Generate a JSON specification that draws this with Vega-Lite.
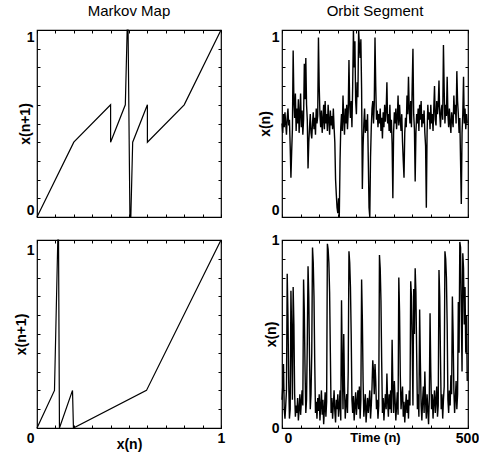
{
  "$schema": "https://vega.github.io/schema/vega-lite/v6.json",
  "padding": {"left": 13, "top": 3, "right": 5, "bottom": 5},
  "background": "white",
  "columns": 2,
  "bounds": "flush",
  "spacing": {"row": 23, "column": 61},
  "config": {
    "font": "Liberation Sans",
    "view": {"stroke": "black", "strokeWidth": 1.2},
    "title": {"font": "Liberation Sans", "fontSize": 15, "fontWeight": "normal", "color": "black", "offset": 8},
    "axis": {
      "labelFont": "Liberation Sans", "labelFontSize": 14, "labelFontWeight": "bold", "labelColor": "black",
      "titleFont": "Liberation Sans", "titleFontSize": 14, "titleFontWeight": "bold", "titleColor": "black",
      "tickColor": "black", "tickSize": -3, "tickWidth": 1, "domain": false, "grid": false, "labelPadding": 6
    }
  },
  "datasets": {
    "map1": [
      {"i": 0, "x": 0, "y": 0}, {"i": 1, "x": 0.2, "y": 0.4}, {"i": 2, "x": 0.4, "y": 0.6}, {"i": 3, "x": 0.4, "y": 0.4},
      {"i": 4, "x": 0.48, "y": 0.6}, {"i": 5, "x": 0.49, "y": 1}, {"i": 6, "x": 0.495, "y": 1}, {"i": 7, "x": 0.505, "y": 0},
      {"i": 8, "x": 0.51, "y": 0}, {"i": 9, "x": 0.52, "y": 0.4}, {"i": 10, "x": 0.6, "y": 0.6}, {"i": 11, "x": 0.6, "y": 0.4},
      {"i": 12, "x": 0.8, "y": 0.6}, {"i": 13, "x": 1, "y": 1}
    ],
    "map2": [
      {"i": 0, "x": 0, "y": 0}, {"i": 1, "x": 0.095, "y": 0.2}, {"i": 2, "x": 0.113, "y": 1}, {"i": 3, "x": 0.117, "y": 1},
      {"i": 4, "x": 0.122, "y": 0}, {"i": 5, "x": 0.193, "y": 0.2}, {"i": 6, "x": 0.198, "y": 0}, {"i": 7, "x": 0.595, "y": 0.2},
      {"i": 8, "x": 1, "y": 1}
    ],
    "orbit1": [
      {"n":0,"v":0.50},{"n":2,"v":0.45},{"n":4,"v":0.55},{"n":6,"v":0.48},{"n":8,"v":0.56},{"n":10,"v":0.50},{"n":12,"v":0.44},{"n":14,"v":0.53},{"n":16,"v":0.58},{"n":18,"v":0.49},
      {"n":20,"v":0.52},{"n":22,"v":0.38},{"n":24,"v":0.21},{"n":26,"v":0.35},{"n":28,"v":0.47},{"n":30,"v":0.89},{"n":32,"v":0.62},{"n":34,"v":0.53},{"n":36,"v":0.66},{"n":38,"v":0.46},
      {"n":40,"v":0.58},{"n":42,"v":0.50},{"n":44,"v":0.63},{"n":46,"v":0.45},{"n":48,"v":0.55},{"n":50,"v":0.66},{"n":52,"v":0.48},{"n":54,"v":0.57},{"n":56,"v":0.44},{"n":58,"v":0.52},
      {"n":60,"v":0.82},{"n":62,"v":0.63},{"n":64,"v":0.85},{"n":66,"v":0.60},{"n":68,"v":0.52},{"n":70,"v":0.26},{"n":72,"v":0.40},{"n":74,"v":0.48},{"n":76,"v":0.55},{"n":78,"v":0.45},
      {"n":80,"v":0.42},{"n":82,"v":0.50},{"n":84,"v":0.56},{"n":86,"v":0.47},{"n":88,"v":0.53},{"n":90,"v":0.44},{"n":92,"v":0.58},{"n":94,"v":0.50},{"n":96,"v":0.54},{"n":98,"v":0.96},
      {"n":100,"v":0.70},{"n":102,"v":0.55},{"n":104,"v":0.48},{"n":106,"v":0.57},{"n":108,"v":0.45},{"n":110,"v":0.52},{"n":112,"v":0.60},{"n":114,"v":0.47},{"n":116,"v":0.62},{"n":118,"v":0.50},
      {"n":120,"v":0.55},{"n":122,"v":0.46},{"n":124,"v":0.60},{"n":126,"v":0.52},{"n":128,"v":0.44},{"n":130,"v":0.57},{"n":132,"v":0.49},{"n":134,"v":0.54},{"n":136,"v":0.47},{"n":138,"v":0.58},
      {"n":140,"v":0.48},{"n":142,"v":0.40},{"n":144,"v":0.20},{"n":146,"v":0.12},{"n":148,"v":0.05},{"n":150,"v":0.02},{"n":152,"v":0.10},{"n":154,"v":0.00},{"n":156,"v":0.30},{"n":158,"v":0.48},
      {"n":160,"v":0.55},{"n":162,"v":0.46},{"n":164,"v":0.65},{"n":166,"v":0.52},{"n":168,"v":0.44},{"n":170,"v":0.58},{"n":172,"v":0.50},{"n":174,"v":0.60},{"n":176,"v":0.47},{"n":178,"v":0.56},
      {"n":180,"v":0.84},{"n":182,"v":0.60},{"n":184,"v":0.53},{"n":186,"v":0.62},{"n":188,"v":0.48},{"n":190,"v":0.70},{"n":192,"v":1.00},{"n":194,"v":0.80},{"n":196,"v":0.94},{"n":198,"v":0.62},
      {"n":200,"v":0.55},{"n":202,"v":0.72},{"n":204,"v":0.64},{"n":206,"v":1.00},{"n":208,"v":0.92},{"n":210,"v":0.85},{"n":212,"v":0.95},{"n":214,"v":0.68},{"n":216,"v":0.15},{"n":218,"v":0.38},
      {"n":220,"v":0.50},{"n":222,"v":0.58},{"n":224,"v":0.45},{"n":226,"v":0.52},{"n":228,"v":0.46},{"n":230,"v":0.55},{"n":232,"v":0.30},{"n":234,"v":0.05},{"n":236,"v":0.00},{"n":238,"v":0.32},
      {"n":240,"v":0.48},{"n":242,"v":0.58},{"n":244,"v":0.62},{"n":246,"v":0.50},{"n":248,"v":0.60},{"n":250,"v":0.96},{"n":252,"v":0.70},{"n":254,"v":0.52},{"n":256,"v":0.57},{"n":258,"v":0.48},
      {"n":260,"v":0.55},{"n":262,"v":0.50},{"n":264,"v":0.58},{"n":266,"v":0.46},{"n":268,"v":0.53},{"n":270,"v":0.42},{"n":272,"v":0.56},{"n":274,"v":0.48},{"n":276,"v":0.60},{"n":278,"v":0.51},
      {"n":280,"v":0.57},{"n":282,"v":0.72},{"n":284,"v":0.50},{"n":286,"v":0.55},{"n":288,"v":0.46},{"n":290,"v":0.60},{"n":292,"v":0.45},{"n":294,"v":0.52},{"n":296,"v":0.39},{"n":298,"v":0.10},
      {"n":300,"v":0.45},{"n":302,"v":0.56},{"n":304,"v":0.50},{"n":306,"v":0.58},{"n":308,"v":0.47},{"n":310,"v":0.53},{"n":312,"v":0.65},{"n":314,"v":0.49},{"n":316,"v":0.60},{"n":318,"v":0.52},
      {"n":320,"v":0.46},{"n":322,"v":0.55},{"n":324,"v":0.40},{"n":326,"v":0.30},{"n":328,"v":0.21},{"n":330,"v":0.45},{"n":332,"v":0.53},{"n":334,"v":0.48},{"n":336,"v":0.65},{"n":338,"v":0.55},
      {"n":340,"v":0.75},{"n":342,"v":0.58},{"n":344,"v":0.50},{"n":346,"v":0.62},{"n":348,"v":0.48},{"n":350,"v":0.70},{"n":352,"v":0.90},{"n":354,"v":0.55},{"n":356,"v":0.47},{"n":358,"v":0.19},
      {"n":360,"v":0.45},{"n":362,"v":0.55},{"n":364,"v":0.50},{"n":366,"v":0.58},{"n":368,"v":0.46},{"n":370,"v":0.60},{"n":372,"v":0.52},{"n":374,"v":0.62},{"n":376,"v":0.48},{"n":378,"v":0.55},
      {"n":380,"v":0.50},{"n":382,"v":0.57},{"n":384,"v":0.45},{"n":386,"v":0.38},{"n":388,"v":0.05},{"n":390,"v":0.45},{"n":392,"v":0.60},{"n":394,"v":0.52},{"n":396,"v":0.56},{"n":398,"v":0.47},
      {"n":400,"v":0.60},{"n":402,"v":0.50},{"n":404,"v":0.55},{"n":406,"v":0.46},{"n":408,"v":0.58},{"n":410,"v":0.70},{"n":412,"v":0.52},{"n":414,"v":0.49},{"n":416,"v":0.62},{"n":418,"v":0.55},
      {"n":420,"v":0.60},{"n":422,"v":0.73},{"n":424,"v":0.55},{"n":426,"v":0.48},{"n":428,"v":0.57},{"n":430,"v":0.60},{"n":432,"v":0.52},{"n":434,"v":0.92},{"n":436,"v":0.68},{"n":438,"v":0.50},
      {"n":440,"v":0.60},{"n":442,"v":0.54},{"n":444,"v":0.75},{"n":446,"v":0.55},{"n":448,"v":0.48},{"n":450,"v":0.58},{"n":452,"v":0.50},{"n":454,"v":0.45},{"n":456,"v":0.56},{"n":458,"v":0.52},
      {"n":460,"v":0.48},{"n":462,"v":0.65},{"n":464,"v":0.55},{"n":466,"v":0.60},{"n":468,"v":0.50},{"n":470,"v":0.78},{"n":472,"v":0.62},{"n":474,"v":0.55},{"n":476,"v":0.45},{"n":478,"v":0.53},
      {"n":480,"v":0.30},{"n":482,"v":0.07},{"n":484,"v":0.45},{"n":486,"v":0.55},{"n":488,"v":0.75},{"n":490,"v":0.50},{"n":492,"v":0.58},{"n":494,"v":0.47},{"n":496,"v":0.55},{"n":498,"v":0.50}
    ],
    "orbit2": [
      {"n":0,"v":0.15},{"n":2,"v":0.22},{"n":4,"v":0.34},{"n":6,"v":0.10},{"n":8,"v":0.05},{"n":10,"v":0.12},{"n":12,"v":0.20},{"n":14,"v":0.82},{"n":16,"v":0.60},{"n":18,"v":0.25},
      {"n":20,"v":0.05},{"n":22,"v":0.10},{"n":24,"v":0.73},{"n":26,"v":0.50},{"n":28,"v":0.15},{"n":30,"v":0.75},{"n":32,"v":0.55},{"n":34,"v":0.18},{"n":36,"v":0.06},{"n":38,"v":0.12},
      {"n":40,"v":0.08},{"n":42,"v":0.16},{"n":44,"v":0.04},{"n":46,"v":0.10},{"n":48,"v":0.18},{"n":50,"v":0.07},{"n":52,"v":0.14},{"n":54,"v":0.20},{"n":56,"v":0.12},{"n":58,"v":0.79},
      {"n":60,"v":0.62},{"n":62,"v":0.30},{"n":64,"v":0.08},{"n":66,"v":0.15},{"n":68,"v":0.45},{"n":70,"v":0.86},{"n":72,"v":0.70},{"n":74,"v":0.38},{"n":76,"v":0.10},{"n":78,"v":0.18},
      {"n":80,"v":0.40},{"n":82,"v":0.96},{"n":84,"v":0.88},{"n":86,"v":0.70},{"n":88,"v":0.35},{"n":90,"v":0.08},{"n":92,"v":0.14},{"n":94,"v":0.05},{"n":96,"v":0.16},{"n":98,"v":0.09},
      {"n":100,"v":0.18},{"n":102,"v":0.04},{"n":104,"v":0.12},{"n":106,"v":0.20},{"n":108,"v":0.07},{"n":110,"v":0.15},{"n":112,"v":0.02},{"n":114,"v":0.10},{"n":116,"v":0.19},{"n":118,"v":0.06},
      {"n":120,"v":0.14},{"n":122,"v":0.98},{"n":124,"v":0.95},{"n":126,"v":0.88},{"n":128,"v":0.72},{"n":130,"v":0.40},{"n":132,"v":0.08},{"n":134,"v":0.16},{"n":136,"v":0.05},{"n":138,"v":0.12},
      {"n":140,"v":0.20},{"n":142,"v":0.09},{"n":144,"v":0.03},{"n":146,"v":0.15},{"n":148,"v":0.10},{"n":150,"v":0.18},{"n":152,"v":0.06},{"n":154,"v":0.12},{"n":156,"v":0.20},{"n":158,"v":0.04},
      {"n":160,"v":0.68},{"n":162,"v":0.35},{"n":164,"v":0.10},{"n":166,"v":0.50},{"n":168,"v":0.22},{"n":170,"v":0.05},{"n":172,"v":0.13},{"n":174,"v":0.18},{"n":176,"v":0.08},{"n":178,"v":0.30},
      {"n":180,"v":0.94},{"n":182,"v":0.88},{"n":184,"v":0.75},{"n":186,"v":0.50},{"n":188,"v":0.15},{"n":190,"v":0.08},{"n":192,"v":0.17},{"n":194,"v":0.04},{"n":196,"v":0.12},{"n":198,"v":0.19},
      {"n":200,"v":0.07},{"n":202,"v":0.14},{"n":204,"v":0.20},{"n":206,"v":0.10},{"n":208,"v":0.22},{"n":210,"v":0.05},{"n":212,"v":0.15},{"n":214,"v":0.79},{"n":216,"v":0.58},{"n":218,"v":0.25},
      {"n":220,"v":0.06},{"n":222,"v":0.12},{"n":224,"v":0.18},{"n":226,"v":0.03},{"n":228,"v":0.10},{"n":230,"v":0.16},{"n":232,"v":0.08},{"n":234,"v":0.14},{"n":236,"v":0.20},{"n":238,"v":0.05},
      {"n":240,"v":0.12},{"n":242,"v":0.22},{"n":244,"v":0.36},{"n":246,"v":0.30},{"n":248,"v":0.18},{"n":250,"v":0.34},{"n":252,"v":0.25},{"n":254,"v":0.10},{"n":256,"v":0.15},{"n":258,"v":0.05},
      {"n":260,"v":0.12},{"n":262,"v":0.92},{"n":264,"v":0.85},{"n":266,"v":0.68},{"n":268,"v":0.35},{"n":270,"v":0.08},{"n":272,"v":0.16},{"n":274,"v":0.04},{"n":276,"v":0.12},{"n":278,"v":0.18},
      {"n":280,"v":0.10},{"n":282,"v":0.29},{"n":284,"v":0.14},{"n":286,"v":0.06},{"n":288,"v":0.18},{"n":290,"v":0.10},{"n":292,"v":0.20},{"n":294,"v":0.08},{"n":296,"v":0.47},{"n":298,"v":0.22},
      {"n":300,"v":0.08},{"n":302,"v":0.25},{"n":304,"v":0.15},{"n":306,"v":0.04},{"n":308,"v":0.12},{"n":310,"v":0.19},{"n":312,"v":0.07},{"n":314,"v":0.80},{"n":316,"v":0.62},{"n":318,"v":0.28},
      {"n":320,"v":0.10},{"n":322,"v":0.17},{"n":324,"v":0.22},{"n":326,"v":0.06},{"n":328,"v":0.14},{"n":330,"v":0.03},{"n":332,"v":0.11},{"n":334,"v":0.18},{"n":336,"v":0.08},{"n":338,"v":0.15},
      {"n":340,"v":0.05},{"n":342,"v":0.20},{"n":344,"v":0.12},{"n":346,"v":0.78},{"n":348,"v":0.70},{"n":350,"v":0.45},{"n":352,"v":0.12},{"n":354,"v":0.74},{"n":356,"v":0.50},{"n":358,"v":0.85},
      {"n":360,"v":0.72},{"n":362,"v":0.40},{"n":364,"v":0.10},{"n":366,"v":0.18},{"n":368,"v":0.06},{"n":370,"v":0.63},{"n":372,"v":0.35},{"n":374,"v":0.12},{"n":376,"v":0.04},{"n":378,"v":0.15},
      {"n":380,"v":0.22},{"n":382,"v":0.08},{"n":384,"v":0.30},{"n":386,"v":0.14},{"n":388,"v":0.05},{"n":390,"v":0.18},{"n":392,"v":0.10},{"n":394,"v":0.02},{"n":396,"v":0.16},{"n":398,"v":0.61},
      {"n":400,"v":0.30},{"n":402,"v":0.10},{"n":404,"v":0.18},{"n":406,"v":0.05},{"n":408,"v":0.14},{"n":410,"v":0.20},{"n":412,"v":0.08},{"n":414,"v":0.15},{"n":416,"v":0.22},{"n":418,"v":0.06},
      {"n":420,"v":0.12},{"n":422,"v":0.84},{"n":424,"v":0.70},{"n":426,"v":0.38},{"n":428,"v":0.10},{"n":430,"v":0.18},{"n":432,"v":0.05},{"n":434,"v":0.15},{"n":436,"v":0.22},{"n":438,"v":0.94},
      {"n":440,"v":0.90},{"n":442,"v":0.80},{"n":444,"v":0.55},{"n":446,"v":0.15},{"n":448,"v":0.08},{"n":450,"v":0.20},{"n":452,"v":0.12},{"n":454,"v":0.28},{"n":456,"v":0.18},{"n":458,"v":0.70},
      {"n":460,"v":0.50},{"n":462,"v":0.20},{"n":464,"v":0.08},{"n":466,"v":0.16},{"n":468,"v":0.25},{"n":470,"v":0.10},{"n":472,"v":0.18},{"n":474,"v":0.67},{"n":476,"v":0.40},{"n":478,"v":0.99},
      {"n":480,"v":0.96},{"n":482,"v":0.62},{"n":484,"v":0.30},{"n":486,"v":0.93},{"n":488,"v":0.85},{"n":490,"v":0.55},{"n":492,"v":0.75},{"n":494,"v":0.40},{"n":496,"v":0.60},{"n":498,"v":0.25}
    ]
  },
  "concat": [
    {
      "width": 184, "height": 187,
      "title": {"text": "Markov Map"},
      "data": {"name": "map1"},
      "resolve": {"axis": {"x": "independent", "y": "independent"}},
      "layer": [
        {
          "mark": {"type": "line", "color": "black", "strokeWidth": 1.2},
          "encoding": {
            "x": {"field": "x", "type": "quantitative", "scale": {"domain": [0, 1]},
                  "axis": {"values": [0,0.1,0.2,0.3,0.4,0.5,0.6,0.7,0.8,0.9,1], "labels": false, "title": null}},
            "y": {"field": "y", "type": "quantitative", "scale": {"domain": [0, 1]},
                  "axis": {"values": [0,0.1,0.2,0.3,0.4,0.5,0.6,0.7,0.8,0.9,1], "labelExpr": "datum.value == 0 ? '0' : datum.value == 1 ? '1' : ''", "labelFlush": true, "title": "x(n+1)", "titlePadding": -6}},
            "order": {"field": "i", "type": "quantitative"}
          }
        },
        {
          "mark": {"type": "point", "opacity": 0},
          "encoding": {
            "x": {"field": "x", "type": "quantitative", "axis": {"orient": "top", "values": [0,0.1,0.2,0.3,0.4,0.5,0.6,0.7,0.8,0.9,1], "labels": false, "title": null}},
            "y": {"field": "y", "type": "quantitative", "axis": {"orient": "right", "values": [0,0.1,0.2,0.3,0.4,0.5,0.6,0.7,0.8,0.9,1], "labels": false, "title": null}}
          }
        }
      ]
    },
    {
      "width": 186, "height": 187,
      "title": {"text": "Orbit Segment"},
      "data": {"name": "orbit1"},
      "resolve": {"axis": {"x": "independent", "y": "independent"}},
      "layer": [
        {
          "mark": {"type": "line", "color": "black", "strokeWidth": 1.4},
          "encoding": {
            "x": {"field": "n", "type": "quantitative", "scale": {"domain": [0, 500], "nice": false},
                  "axis": {"values": [0,50,100,150,200,250,300,350,400,450,500], "labels": false, "title": null}},
            "y": {"field": "v", "type": "quantitative", "scale": {"domain": [0, 1]},
                  "axis": {"values": [0,0.1,0.2,0.3,0.4,0.5,0.6,0.7,0.8,0.9,1], "labelExpr": "datum.value == 0 ? '0' : datum.value == 1 ? '1' : ''", "labelFlush": true, "title": "x(n)", "titlePadding": -1}}
          }
        },
        {
          "mark": {"type": "point", "opacity": 0},
          "encoding": {
            "x": {"field": "n", "type": "quantitative", "axis": {"orient": "top", "values": [0,50,100,150,200,250,300,350,400,450,500], "labels": false, "title": null}},
            "y": {"field": "v", "type": "quantitative", "axis": {"orient": "right", "values": [0,0.1,0.2,0.3,0.4,0.5,0.6,0.7,0.8,0.9,1], "labels": false, "title": null}}
          }
        }
      ]
    },
    {
      "width": 184, "height": 188,
      "data": {"name": "map2"},
      "resolve": {"axis": {"x": "independent", "y": "independent"}},
      "layer": [
        {
          "mark": {"type": "line", "color": "black", "strokeWidth": 1.2},
          "encoding": {
            "x": {"field": "x", "type": "quantitative", "scale": {"domain": [0, 1]},
                  "axis": {"values": [0,0.1,0.2,0.3,0.4,0.5,0.6,0.7,0.8,0.9,1], "labelExpr": "datum.value == 1 ? '1' : ''", "labelFlush": false, "title": "x(n)", "titlePadding": -8}},
            "y": {"field": "y", "type": "quantitative", "scale": {"domain": [0, 1]},
                  "axis": {"values": [0,0.1,0.2,0.3,0.4,0.5,0.6,0.7,0.8,0.9,1], "labelExpr": "datum.value == 0 ? '0' : datum.value == 1 ? '1' : ''", "labelOffset": 10, "title": "x(n+1)", "titlePadding": -2}},
            "order": {"field": "i", "type": "quantitative"}
          }
        },
        {
          "mark": {"type": "point", "opacity": 0},
          "encoding": {
            "x": {"field": "x", "type": "quantitative", "axis": {"orient": "top", "values": [0,0.1,0.2,0.3,0.4,0.5,0.6,0.7,0.8,0.9,1], "labels": false, "title": null}},
            "y": {"field": "y", "type": "quantitative", "axis": {"orient": "right", "values": [0,0.1,0.2,0.3,0.4,0.5,0.6,0.7,0.8,0.9,1], "labels": false, "title": null}}
          }
        }
      ]
    },
    {
      "width": 186, "height": 188,
      "data": {"name": "orbit2"},
      "resolve": {"axis": {"x": "independent", "y": "independent"}},
      "layer": [
        {
          "mark": {"type": "line", "color": "black", "strokeWidth": 1.4},
          "encoding": {
            "x": {"field": "n", "type": "quantitative", "scale": {"domain": [0, 500], "nice": false},
                  "axis": {"values": [0,50,100,150,200,250,300,350,400,450,500], "labelExpr": "datum.value == 0 ? '0' : datum.value == 500 ? '500' : ''", "labelFlush": false, "labelOffset": {"condition": {"test": "datum.value == 0", "value": 6}, "value": -1}, "title": "Time (n)", "titleFontSize": 13, "titlePadding": -14}},
            "y": {"field": "v", "type": "quantitative", "scale": {"domain": [0, 1]},
                  "axis": {"values": [0,0.1,0.2,0.3,0.4,0.5,0.6,0.7,0.8,0.9,1], "labelExpr": "datum.value == 0 ? '0' : datum.value == 1 ? '1' : ''", "title": "x(n)", "titlePadding": -7}}
          }
        },
        {
          "mark": {"type": "point", "opacity": 0},
          "encoding": {
            "x": {"field": "n", "type": "quantitative", "axis": {"orient": "top", "values": [0,50,100,150,200,250,300,350,400,450,500], "labels": false, "title": null}},
            "y": {"field": "v", "type": "quantitative", "axis": {"orient": "right", "values": [0,0.1,0.2,0.3,0.4,0.5,0.6,0.7,0.8,0.9,1], "labels": false, "title": null}}
          }
        }
      ]
    }
  ]
}
